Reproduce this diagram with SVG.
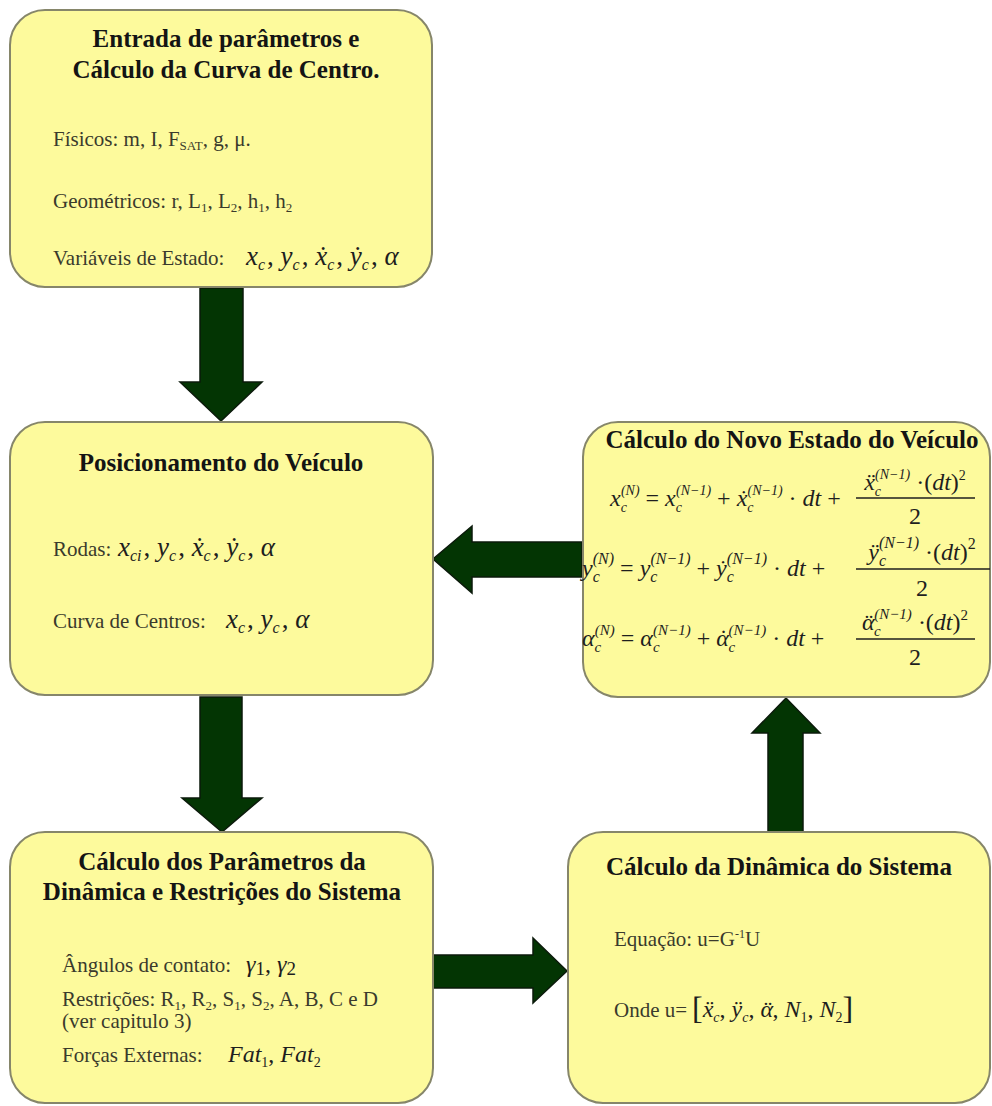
<svg xmlns="http://www.w3.org/2000/svg" width="992" height="1106" viewBox="0 0 992 1106">
<style>
.box{fill:#FDFA9C;stroke:#86866A;stroke-width:2}
.arrow{fill:#033503;stroke:#0b1a0b;stroke-width:1.5}
.t{font-family:"Liberation Serif","Times New Roman",serif;font-weight:bold;font-size:25px;fill:#141414;text-anchor:middle}
.b{font-family:"Liberation Serif","Times New Roman",serif;font-size:21px;fill:#3a3a2c}
.sb{font-size:13px}
.m{font-family:"Liberation Serif","Times New Roman",serif;font-style:italic;font-size:24px;fill:#1e1e1e}
.m2{font-family:"Liberation Serif","Times New Roman",serif;font-style:italic;font-size:27px;fill:#1e1e1e}
.s{font-size:14px}
.s2{font-size:16px}
.u{font-style:normal}
.fl{stroke:#1e1e1e;stroke-width:1.3}
</style>
<rect width="992" height="1106" fill="#ffffff"/>
<g id="connectors">
<polygon class="arrow" points="200,288 243,288 243,382 262,382 221,421 180,382 200,382"/>
<polygon class="arrow" points="200,697 242,697 242,798 262,798 222,832 182,798 200,798"/>
<polygon class="arrow" points="582,542 582,577 472,577 472,593 433,559 472,526 472,542"/>
<polygon class="arrow" points="433,955 533,955 533,938 567,971 533,1003 533,988 433,988"/>
<polygon class="arrow" points="768,832 768,733 752,733 786,698 820,733 803,733 803,832"/>
</g>
<g id="node-entrada">
<rect class="box" x="10" y="10" width="422" height="277" rx="35"/>
<text class="t" x="226" y="47">Entrada de parâmetros e</text>
<text class="t" x="226" y="78">Cálculo da Curva de Centro.</text>
<text class="b" x="53" y="146">Físicos: m, I, F<tspan class="sb" dy="4">SAT</tspan><tspan dy="-4">, g, μ.</tspan></text>
<text class="b" x="53" y="208">Geométricos: r, L<tspan class="sb" dy="4">1</tspan><tspan dy="-4">, L</tspan><tspan class="sb" dy="4">2</tspan><tspan dy="-4">, h</tspan><tspan class="sb" dy="4">1</tspan><tspan dy="-4">, h</tspan><tspan class="sb" dy="4">2</tspan></text>
<text class="b" x="53" y="265">Variáveis de Estado:</text>
<text class="m2" x="246" y="265">x<tspan class="s2" dy="5">c</tspan><tspan class="u" dy="-5" dx="2">, </tspan>y<tspan class="s2" dy="5">c</tspan><tspan class="u" dy="-5" dx="2">, </tspan>x&#x307;<tspan class="s2" dy="5">c</tspan><tspan class="u" dy="-5" dx="2">, </tspan>y&#x307;<tspan class="s2" dy="5">c</tspan><tspan class="u" dy="-5" dx="2">, </tspan>α</text>
</g>
<g id="node-posicionamento">
<rect class="box" x="10" y="422" width="423" height="273" rx="35"/>
<text class="t" x="221" y="471">Posicionamento do Veículo</text>
<text class="b" x="53" y="556">Rodas:</text>
<text class="m2" x="118" y="556">x<tspan class="s2" dy="5">ci</tspan><tspan class="u" dy="-5" dx="2">, </tspan>y<tspan class="s2" dy="5">c</tspan><tspan class="u" dy="-5" dx="2">, </tspan>x&#x307;<tspan class="s2" dy="5">c</tspan><tspan class="u" dy="-5" dx="2">, </tspan>y&#x307;<tspan class="s2" dy="5">c</tspan><tspan class="u" dy="-5" dx="2">, </tspan>α</text>
<text class="b" x="53" y="628">Curva de Centros:</text>
<text class="m2" x="226" y="628">x<tspan class="s2" dy="5">c</tspan><tspan class="u" dy="-5" dx="2">, </tspan>y<tspan class="s2" dy="5">c</tspan><tspan class="u" dy="-5" dx="2">, </tspan>α</text>
</g>
<g id="node-parametros">
<rect class="box" x="10" y="832" width="423" height="271" rx="35"/>
<text class="t" x="222" y="870">Cálculo dos Parâmetros da</text>
<text class="t" x="222" y="900">Dinâmica e Restrições do Sistema</text>
<text class="b" x="62" y="972" font-size="19">Ângulos de contato:</text>
<text class="m" x="246" y="972" font-size="27">γ<tspan class="u" font-size="19" dy="3">1</tspan><tspan class="u" dy="-3">, </tspan>γ<tspan class="u" font-size="19" dy="3">2</tspan></text>
<text class="b" x="62" y="1006">Restrições: R<tspan class="sb" dy="4">1</tspan><tspan dy="-4">, R</tspan><tspan class="sb" dy="4">2</tspan><tspan dy="-4">, S</tspan><tspan class="sb" dy="4">1</tspan><tspan dy="-4">, S</tspan><tspan class="sb" dy="4">2</tspan><tspan dy="-4">, A, B, C e D</tspan></text>
<text class="b" x="62" y="1028">(ver capitulo 3)</text>
<text class="b" x="62" y="1062">Forças Externas:</text>
<text class="m" x="228" y="1062">Fat<tspan class="s u" dy="5">1</tspan><tspan class="u" dy="-5">, </tspan>Fat<tspan class="s u" dy="5">2</tspan></text>
</g>
<g id="node-novo-estado">
<rect class="box" x="583" y="422" width="407" height="275" rx="35"/>
<text class="t" x="792" y="448">Cálculo do Novo Estado do Veículo</text>
<text class="m" x="610" y="506">x<tspan class="s" dy="6">c</tspan><tspan class="s" dx="-6" dy="-17">(N)</tspan><tspan class="u" dy="11"> = </tspan>x<tspan class="s" dy="6">c</tspan><tspan class="s" dx="-6" dy="-17">(N−1)</tspan><tspan class="u" dy="11"> + </tspan>x&#x307;<tspan class="s" dy="6">c</tspan><tspan class="s" dx="-6" dy="-17">(N−1)</tspan><tspan class="u" dy="11"> · </tspan>dt<tspan class="u"> +</tspan></text>
<text class="m" x="915" y="490" text-anchor="middle">x&#x308;<tspan class="s" dy="6">c</tspan><tspan class="s" dx="-6" dy="-17">(N−1)</tspan><tspan class="u" dy="11"> ·(</tspan>dt<tspan class="u">)</tspan><tspan class="s u" dy="-10">2</tspan></text>
<line class="fl" x1="856" y1="498" x2="975" y2="498"/>
<text class="m u" x="915" y="524" text-anchor="middle">2</text>
<text class="m" x="582" y="576" font-size="26">y<tspan font-size="16" dy="6">c</tspan><tspan font-size="16" dx="-7" dy="-18">(N)</tspan><tspan class="u" dy="12"> = </tspan>y<tspan font-size="16" dy="6">c</tspan><tspan font-size="16" dx="-7" dy="-18">(N−1)</tspan><tspan class="u" dy="12"> + </tspan>y&#x307;<tspan font-size="16" dy="6">c</tspan><tspan font-size="16" dx="-7" dy="-18">(N−1)</tspan><tspan class="u" dy="12"> · </tspan>dt<tspan class="u"> +</tspan></text>
<text class="m" x="922" y="560" font-size="26" text-anchor="middle">ÿ<tspan font-size="16" dy="6">c</tspan><tspan font-size="16" dx="-7" dy="-18">(N−1)</tspan><tspan class="u" dy="12"> ·(</tspan>dt<tspan class="u">)</tspan><tspan class="u" font-size="16" dy="-11">2</tspan></text>
<line class="fl" x1="856" y1="569" x2="990" y2="569"/>
<text class="m u" x="922" y="596" font-size="26" text-anchor="middle">2</text>
<text class="m" x="582" y="646" font-size="25">α<tspan font-size="15" dy="6">c</tspan><tspan font-size="15" dx="-6.5" dy="-17">(N)</tspan><tspan class="u" dy="11"> = </tspan>α<tspan font-size="15" dy="6">c</tspan><tspan font-size="15" dx="-6.5" dy="-17">(N−1)</tspan><tspan class="u" dy="11"> + </tspan>α<tspan class="u" dx="-9.5">˙</tspan><tspan font-size="15" dx="1" dy="6">c</tspan><tspan font-size="15" dx="-6.5" dy="-17">(N−1)</tspan><tspan class="u" dy="11"> · </tspan>dt<tspan class="u"> +</tspan></text>
<text class="m" x="915" y="630" font-size="25" text-anchor="middle">α<tspan class="u" dx="-9.5">¨</tspan><tspan font-size="15" dx="1" dy="6">c</tspan><tspan font-size="15" dx="-6.5" dy="-17">(N−1)</tspan><tspan class="u" dy="11"> ·(</tspan>dt<tspan class="u">)</tspan><tspan class="u" font-size="15" dy="-10">2</tspan></text>
<line class="fl" x1="856" y1="639" x2="975" y2="639"/>
<text class="m u" x="915" y="665" font-size="25" text-anchor="middle">2</text>
</g>
<g id="node-dinamica">
<rect class="box" x="568" y="832" width="422" height="271" rx="35"/>
<text class="t" x="779" y="875">Cálculo da Dinâmica do Sistema</text>
<text class="b" x="614" y="946">Equação: u=G<tspan font-size="12" dy="-8">-1</tspan><tspan dy="8">U</tspan></text>
<text class="b" x="614" y="1017">Onde u=</text>
<text class="m" x="692" y="1017" font-size="23"><tspan class="u" font-size="32" dy="2">[</tspan><tspan dy="-2">x&#x308;</tspan><tspan class="s" dy="5">c</tspan><tspan class="u" dy="-5">, </tspan>y&#x308;<tspan class="s" dy="5">c</tspan><tspan class="u" dy="-5">, </tspan>α<tspan class="u" dx="-9">¨</tspan><tspan class="u" dx="0.5">, </tspan>N<tspan class="s u" dy="5">1</tspan><tspan class="u" dy="-5">, </tspan>N<tspan class="s u" dy="5">2</tspan><tspan class="u" font-size="32" dy="-3">]</tspan></text>
</g>
</svg>
